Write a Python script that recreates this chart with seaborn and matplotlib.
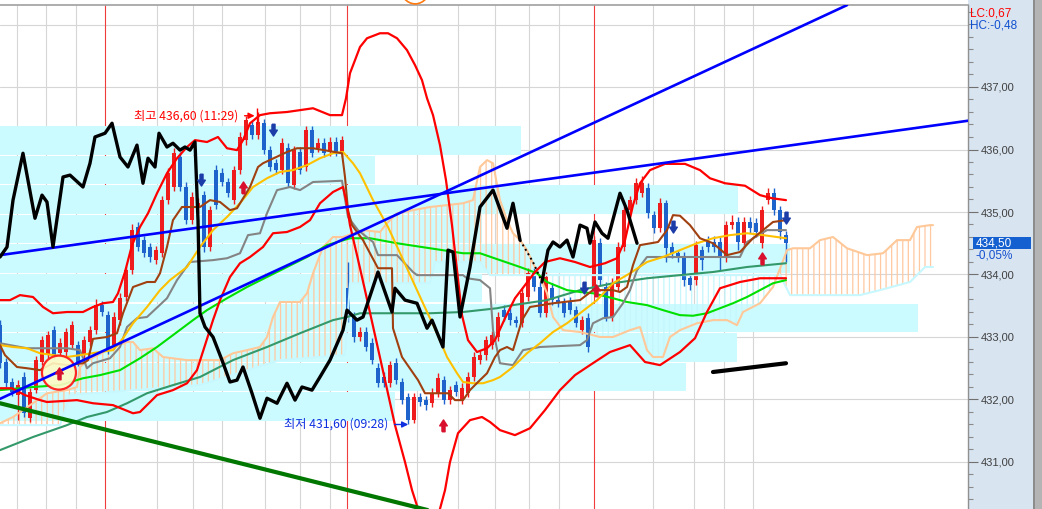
import numpy as np
import pandas as pd
import seaborn as sns
import matplotlib
matplotlib.use("Agg")
import matplotlib.pyplot as plt
from matplotlib.patches import Rectangle, Ellipse
from matplotlib.ticker import FuncFormatter, FixedLocator, MultipleLocator
import matplotlib.transforms as mtransforms

sns.set_theme(style="white")
plt.rcParams['font.family'] = ['DejaVu Sans']
plt.rcParams['hatch.linewidth'] = 0.9

# ---------------- data ----------------
open_ = [
433.19, 432.60, 432.28, 432.07, 432.36, 431.70, 432.15, 432.60, 432.71, 433.11,
432.74, 432.76, 432.87, 432.87, 432.71, 432.92, 433.11, 433.51, 433.35, 432.87,
433.27, 433.64, 434.07, 434.76, 434.55, 434.44, 434.23, 434.34, 435.19, 435.40,
435.88, 435.40, 434.87, 435.06, 435.27, 434.44, 435.67, 435.62, 435.48, 435.19,
435.67, 436.15, 436.39, 436.23, 436.42, 435.99, 435.78, 435.67, 436.02, 435.43,
435.96, 435.72, 436.31, 436.02, 436.10, 435.96, 436.12, 435.94, 433.78, 433.32,
433.00, 433.08, 432.90, 432.50, 432.36, 432.26, 432.58, 432.28, 432.04, 431.67,
432.04, 431.99, 431.94, 432.10, 432.31, 431.99, 432.23, 431.99, 432.10, 432.36,
432.63, 432.71, 432.87, 433.00, 433.43, 433.38, 433.27, 433.22, 433.64, 434.02,
433.80, 433.38, 433.78, 433.59, 433.54, 433.56, 433.43, 433.11, 433.30, 433.75,
434.50, 433.80, 433.32, 433.80, 434.44, 435.03, 435.19, 435.30, 435.38, 434.95,
434.74, 435.14, 434.44, 434.34, 434.28, 433.94, 433.91, 434.39, 434.52, 434.52,
434.52, 434.28, 434.79, 434.84, 434.50, 434.84, 434.82, 434.50, 435.19, 435.30,
435.03, 434.63]
close = [
432.58, 432.26, 432.12, 432.23, 431.78, 432.12, 432.63, 432.95, 433.03, 432.71,
432.90, 433.08, 433.19, 432.60, 432.95, 433.11, 433.51, 433.40, 432.79, 433.32,
433.62, 434.07, 434.71, 434.44, 434.34, 434.28, 434.39, 435.19, 435.62, 435.94,
435.40, 434.87, 435.24, 435.14, 434.44, 435.03, 435.11, 435.48, 435.30, 435.67,
436.20, 436.47, 436.23, 436.44, 435.99, 435.72, 435.67, 436.10, 435.46, 435.99,
435.67, 436.31, 435.94, 436.10, 435.94, 436.12, 435.96, 436.15, 433.32, 433.00,
433.08, 432.84, 432.63, 432.26, 432.26, 432.55, 432.31, 431.99, 431.67, 432.04,
431.96, 431.91, 432.10, 432.34, 431.99, 432.15, 432.12, 432.18, 432.36, 432.68,
432.71, 432.95, 433.03, 433.32, 433.32, 433.27, 433.22, 433.70, 434.02, 433.80,
433.38, 433.96, 433.59, 433.54, 433.38, 433.43, 433.22, 433.27, 432.84, 434.55,
433.91, 433.32, 433.86, 434.44, 435.03, 435.19, 435.46, 435.46, 434.98, 434.74,
435.14, 434.42, 434.34, 434.28, 433.91, 433.83, 434.47, 434.23, 434.44, 434.44,
434.28, 434.79, 434.84, 434.52, 434.84, 434.74, 434.68, 435.03, 435.30, 435.03,
434.68, 434.50]
high = [
433.28, 432.66, 432.34, 432.31, 432.44, 432.18, 432.70, 433.02, 433.10, 433.18,
432.98, 433.15, 433.26, 432.94, 433.02, 433.18, 433.60, 433.58, 433.42, 433.40,
433.70, 434.14, 434.80, 434.84, 434.62, 434.50, 434.45, 435.26, 435.70, 436.02,
435.96, 435.48, 435.32, 435.22, 435.34, 435.10, 435.76, 435.70, 435.55, 435.74,
436.28, 436.54, 436.46, 436.60, 436.48, 436.06, 435.85, 436.18, 436.10, 436.06,
436.04, 436.38, 436.38, 436.18, 436.18, 436.20, 436.20, 436.22, 434.20, 433.40,
433.16, 433.16, 432.98, 432.58, 432.44, 432.62, 432.66, 432.34, 432.10, 432.10,
432.10, 432.06, 432.18, 432.42, 432.38, 432.22, 432.30, 432.26, 432.44, 432.76,
432.78, 433.02, 433.10, 433.40, 433.52, 433.46, 433.34, 433.78, 434.10, 434.10,
433.88, 434.04, 433.86, 433.66, 433.62, 433.64, 433.50, 433.34, 433.38, 434.62,
434.58, 433.88, 433.94, 434.52, 435.10, 435.26, 435.54, 435.58, 435.46, 435.02,
435.22, 435.20, 434.52, 434.40, 434.36, 434.02, 434.54, 434.46, 434.62, 434.62,
434.60, 434.86, 434.96, 434.92, 434.92, 434.92, 434.90, 435.10, 435.38, 435.38,
435.10, 434.70]
low = [
432.50, 432.20, 432.05, 431.67, 431.72, 431.64, 432.10, 432.55, 432.66, 432.65,
432.68, 432.70, 432.82, 432.54, 432.65, 432.86, 433.05, 433.33, 432.72, 432.80,
433.20, 433.58, 434.00, 434.38, 434.28, 434.20, 434.16, 434.28, 435.12, 435.34,
435.34, 434.80, 434.80, 434.98, 434.36, 434.38, 435.04, 435.42, 435.24, 435.12,
435.60, 436.08, 436.16, 436.16, 435.92, 435.66, 435.60, 435.60, 435.40, 435.36,
435.60, 435.66, 435.88, 435.96, 435.88, 435.90, 435.90, 435.88, 433.24, 432.92,
432.94, 432.78, 432.56, 432.20, 432.20, 432.20, 432.24, 431.92, 431.60, 431.62,
431.90, 431.84, 431.88, 432.04, 431.92, 431.92, 432.06, 431.92, 432.04, 432.30,
432.56, 432.64, 432.80, 432.94, 433.26, 433.20, 433.16, 433.16, 433.58, 433.74,
433.32, 433.32, 433.52, 433.48, 433.32, 433.36, 433.16, 433.04, 432.76, 433.70,
433.84, 433.26, 433.26, 433.74, 434.38, 434.96, 435.12, 435.24, 434.90, 434.66,
434.68, 434.20, 434.26, 434.20, 433.82, 433.76, 433.84, 434.08, 434.36, 434.36,
434.08, 434.20, 434.72, 434.40, 434.42, 434.66, 434.60, 434.42, 435.12, 434.96,
434.56, 434.20]

# volume-by-price profile (bin lower edges, width in bar units)
profile_edges = [431.660, 432.133, 432.606, 433.079, 433.552, 434.025,
                 434.498, 434.971, 435.444, 435.917, 436.390]
profile_volume = [65.83, 114.33, 122.83, 153.0, 80.33, 131.67, 80.33, 123.0, 62.5, 86.83]

# overlay (black) line
black_x = [0, 1.17, 2.17, 3.83, 5.83, 7.0, 7.83, 8.83, 10.5, 11.67, 13.83, 15.0, 15.83, 17.5, 18.67,
           20.0, 21.33, 22.83, 23.83, 24.67, 25.83, 26.5, 27.83, 28.83, 30.0, 30.83, 31.67, 32.5,
           33.0, 33.33, 34.17, 35.5, 37.0, 38.33, 39.5, 40.5, 42.0, 43.33, 44.5, 46.17, 47.83,
           49.17, 50.33, 52.0, 53.33, 55.0, 57.17, 57.83, 59.5, 60.5, 63.0, 65.33, 65.83, 67.5,
           69.5, 71.17, 72.0, 73.83, 74.67, 75.5, 76.67, 78.33, 80.0, 82.17, 84.5, 85.5, 86.67]
black_y = [434.28, 434.44, 435.19, 435.94, 434.90, 435.27, 435.16, 434.44, 435.56, 435.59, 435.40,
           435.78, 436.20, 436.26, 436.42, 435.88, 435.72, 436.07, 435.46, 435.86, 435.72, 436.26,
           436.04, 436.10, 435.99, 436.04, 435.99, 436.12, 434.87, 433.38, 433.16, 433.00, 432.63,
           432.28, 432.31, 432.52, 432.10, 431.70, 432.02, 431.94, 432.26, 431.99, 432.20, 432.15,
           432.36, 432.63, 433.11, 433.43, 433.27, 433.32, 434.04, 433.40, 433.78, 433.59, 433.54,
           433.14, 433.27, 432.84, 434.39, 434.36, 433.32, 434.12, 435.08, 435.35, 434.74, 435.14,
           434.55]
black_dot_x = [86.67, 88.83, 90.33]
black_dot_y = [434.55, 434.20, 433.88]
black2_x = [90.33, 91.33, 92.17, 93.33, 94.5, 95.5, 96.67, 97.83, 98.33, 99.17, 100.33, 101.33,
            103.33, 104.5, 106.17]
black2_y = [433.88, 434.39, 434.52, 434.44, 434.55, 434.28, 434.79, 434.74, 434.50, 434.84,
            434.66, 434.58, 435.30, 435.03, 434.50]
black3_x = [118.83, 131.0]
black3_y = [432.44, 432.58]

# bollinger bands
bb_up_x = [0, 1.67, 3.33, 5.5, 7.17, 8.83, 11.17, 13.83, 15.5, 17.17, 18.83, 19.67, 20.83, 22.0,
           23.33, 24.67, 26.17, 27.83, 29.5, 31.17, 32.5, 34.5, 36.33, 37.83, 39.5, 40.5, 41.67,
           43.33, 45.0, 47.83, 50.0, 52.17, 55.0, 57.0, 57.67, 58.33, 59.17, 60.0, 61.17, 63.33,
           64.67, 66.17, 67.83, 69.17, 70.33, 71.17, 72.17, 73.33, 74.33, 75.33, 76.17, 77.0,
           78.0, 79.5, 81.17, 82.5, 84.17, 85.83, 87.5, 89.17, 90.83, 93.33, 95.83, 98.33,
           100.83, 102.83, 104.17, 105.5, 106.67, 108.33, 110.83, 114.17, 116.67, 118.33,
           120.83, 124.17, 126.67, 128.67, 131.0]
bb_up_y = [433.59, 433.59, 433.67, 433.64, 433.48, 433.38, 433.40, 433.40, 433.48, 433.54, 433.56,
           433.70, 434.04, 434.47, 434.76, 434.98, 435.30, 435.62, 435.86, 436.04, 436.15, 436.12,
           436.20, 436.02, 435.99, 436.15, 436.42, 436.55, 436.58, 436.60, 436.63, 436.66, 436.55,
           436.55, 436.82, 437.22, 437.43, 437.64, 437.78, 437.86, 437.86, 437.78, 437.59, 437.35,
           437.11, 436.82, 436.55, 436.07, 435.51, 434.79, 434.07, 433.35, 432.95, 432.76, 432.82,
           432.95, 433.30, 433.62, 433.83, 434.04, 434.20, 434.26, 434.20, 434.12, 434.18, 434.26,
           434.55, 435.11, 435.46, 435.67, 435.77, 435.77, 435.67, 435.54, 435.46, 435.42, 435.27,
           435.22, 435.19]
bb_dn_x = [0, 2.0, 4.17, 6.67, 7.83, 12.83, 15.5, 18.83, 22.17, 23.33, 26.17, 28.83, 31.17, 32.83,
           34.17, 35.5, 36.67, 38.33, 40.0, 41.67, 43.83, 45.5, 47.83, 50.0, 51.67, 53.33, 55.5,
           57.17, 57.67, 58.33, 59.5, 60.83, 62.5, 64.17, 65.83, 67.5, 68.67, 69.67, 70.83, 72.5,
           73.33, 74.17, 75.0, 76.33, 78.33, 80.33, 81.67, 83.33, 85.83, 88.33, 90.83, 93.33,
           95.83, 98.33, 101.67, 105.0, 107.5, 110.0, 113.33, 115.83, 117.83, 120.0, 123.33,
           126.67, 131.0]
bb_dn_y = [432.18, 432.18, 432.07, 431.99, 431.96, 431.99, 431.94, 431.91, 431.78, 431.80, 432.07,
           432.15, 432.26, 432.47, 432.87, 433.27, 433.59, 433.96, 434.18, 434.28, 434.44, 434.66,
           434.68, 434.76, 434.87, 435.14, 435.32, 435.40, 435.19, 434.79, 434.31, 433.75, 433.03,
           432.31, 431.59, 431.00, 430.55, 430.25, 429.99, 429.99, 430.25, 430.55, 431.00, 431.46,
           431.67, 431.72, 431.64, 431.51, 431.43, 431.54, 431.83, 432.15, 432.39, 432.55, 432.76,
           432.87, 432.60, 432.55, 432.76, 432.98, 433.40, 433.78, 433.88, 433.94, 433.94]

# conversion (brown), base (gray), moving averages
brown_x = [0, 0.83, 2.83, 4.5, 6.67, 8.83, 11.17, 13.83, 14.67, 15.5, 17.83, 19.5, 20.5, 22.17, 24.5,
           25.83, 26.67, 27.83, 28.83, 30.33, 33.33, 35.0, 36.67, 38.33, 39.5, 41.67, 43.0, 43.83,
           47.83, 49.5, 52.17, 57.0, 57.5, 58.0, 58.67, 60.5, 63.0, 65.33, 65.5, 67.0, 69.67, 70.83,
           74.67, 75.83, 77.17, 78.33, 79.67, 81.17, 82.5, 83.33, 84.5, 85.5, 87.0, 88.33, 92.17,
           96.67, 98.83, 102.17, 103.33, 104.5, 105.5, 106.67, 109.67, 111.17, 112.17, 113.33,
           115.0, 116.67, 118.83, 121.17, 123.33, 125.5, 127.17, 128.83, 131.0]
brown_y = [432.87, 432.71, 432.52, 432.50, 432.47, 432.58, 432.55, 432.58, 432.63, 432.97, 433.00,
           433.06, 433.38, 433.80, 433.88, 433.88, 434.02, 434.44, 434.87, 435.08, 435.08, 435.19,
           435.16, 435.03, 435.06, 435.40, 435.72, 435.78, 435.96, 436.02, 436.02, 435.94, 435.56,
           435.03, 434.79, 434.55, 434.10, 434.10, 433.14, 432.68, 432.31, 432.10, 432.10, 431.99,
           431.99, 432.15, 432.28, 432.42, 432.68, 432.79, 432.84, 432.79, 433.27, 433.48, 433.54,
           433.59, 433.75, 433.75, 433.72, 433.80, 434.15, 434.47, 434.52, 434.71, 434.95, 434.94,
           434.79, 434.58, 434.50, 434.31, 434.36, 434.58, 434.71, 434.84, 434.87]
gray_x = [0, 4.5, 11.17, 13.33, 14.5, 15.5, 18.33, 20.0, 21.17, 22.83, 24.5, 27.83, 29.5, 31.67,
          35.5, 37.83, 40.0, 41.33, 43.33, 44.5, 46.17, 48.33, 50.0, 52.17, 57.0, 58.0, 59.67,
          62.17, 63.0, 66.17, 68.83, 69.5, 77.17, 77.83, 80.0, 81.67, 82.17, 83.33, 85.5, 87.17,
          90.0, 96.67, 97.83, 98.83, 100.5, 102.17, 103.83, 105.0, 106.17, 107.83, 123.33, 124.5,
          127.83, 131.0]
gray_y = [432.90, 432.82, 432.82, 432.79, 432.50, 432.58, 432.66, 432.84, 433.16, 433.30, 433.32,
          433.62, 433.91, 434.20, 434.23, 434.26, 434.34, 434.63, 434.66, 434.98, 435.35, 435.40,
          435.35, 435.48, 435.50, 434.92, 434.71, 434.52, 434.31, 434.31, 434.04, 433.99, 433.99,
          433.94, 433.91, 433.78, 433.11, 432.58, 432.55, 432.79, 432.84, 432.87, 432.95, 433.22,
          433.30, 433.32, 433.54, 433.75, 434.07, 434.28, 434.28, 434.52, 434.71, 434.71]
gold_x = [0, 2.17, 4.5, 6.67, 11.17, 13.33, 16.67, 18.83, 20.5, 22.17, 24.5, 26.67, 28.33, 31.17,
          33.33, 35.5, 37.83, 40.0, 42.17, 44.5, 46.67, 48.83, 51.17, 53.33, 55.5, 57.17, 58.83,
          60.0, 62.17, 64.67, 67.83, 70.5, 72.83, 74.5, 76.17, 77.17, 78.83, 80.5, 82.17, 83.33,
          85.5, 87.83, 90.0, 92.17, 94.5, 96.67, 99.5, 102.17, 105.0, 107.83, 110.5, 113.33,
          116.17, 118.83, 121.67, 124.5, 127.17, 131.0]
gold_y = [432.87, 432.84, 432.82, 432.74, 432.68, 432.71, 432.76, 432.79, 432.98, 433.22, 433.48,
          433.75, 433.91, 434.12, 434.44, 434.71, 434.92, 435.14, 435.40, 435.54, 435.64, 435.67,
          435.75, 435.86, 435.94, 435.96, 435.78, 435.62, 435.19, 434.76, 434.10, 433.54, 433.06,
          432.68, 432.42, 432.28, 432.26, 432.26, 432.31, 432.36, 432.52, 432.74, 432.90, 433.08,
          433.22, 433.38, 433.59, 433.86, 434.02, 434.20, 434.28, 434.39, 434.50, 434.58, 434.63,
          434.66, 434.63, 434.58]
green_x = [0, 5.5, 10.0, 13.83, 16.67, 20.0, 23.33, 26.17, 28.83, 32.17, 34.5, 37.83, 41.17, 44.5,
           47.83, 51.17, 54.5, 58.33, 61.67, 66.17, 71.67, 77.17, 80.0, 83.33, 86.67, 89.5, 91.17,
           94.5, 96.67, 98.83, 102.17, 104.5, 107.83, 110.5, 113.33, 115.5, 117.83, 120.0, 122.17,
           124.5, 126.67, 128.83, 131.0]
green_y = [432.15, 432.20, 432.23, 432.34, 432.39, 432.47, 432.66, 432.84, 433.03, 433.27, 433.43,
           433.62, 433.80, 433.96, 434.12, 434.28, 434.47, 434.58, 434.58, 434.50, 434.42, 434.34,
           434.34, 434.23, 434.12, 434.02, 433.88, 433.75, 433.72, 433.70, 433.62, 433.56, 433.51,
           433.43, 433.35, 433.34, 433.38, 433.46, 433.54, 433.64, 433.75, 433.86, 433.91]
sea_x = [0, 5.5, 11.17, 14.5, 17.83, 21.17, 24.5, 28.83, 33.33, 38.83, 44.5, 50.0, 55.5, 57.83,
         60.0, 63.33, 71.67, 77.17, 82.83, 85.5, 91.17, 96.67, 102.17, 107.83, 113.33, 118.83,
         124.5, 131.0]
sea_y = [431.19, 431.40, 431.59, 431.72, 431.80, 431.94, 432.10, 432.23, 432.36, 432.63, 432.84,
         433.06, 433.27, 433.32, 433.38, 433.38, 433.38, 433.40, 433.46, 433.51, 433.59, 433.75,
         433.86, 433.94, 433.99, 434.04, 434.12, 434.18]

# ichimoku leading spans
spanA_x = [0, 2.17, 3.83, 6.67, 7.83, 11.17, 12.83, 13.33, 14.67, 17.83, 21.17, 22.17, 23.33, 25.5,
           27.17, 31.17, 36.67, 38.83, 41.17, 43.33, 44.5, 45.5, 46.67, 50.0, 51.17, 52.17, 53.83,
           55.5, 57.17, 60.5, 63.33, 64.5, 66.17, 68.83, 71.67, 74.5, 77.17, 78.83, 80.0, 81.17,
           82.17, 83.33, 84.5, 85.5, 86.67, 87.83, 88.83, 90.0, 91.17, 92.17, 93.83, 96.67, 100.0,
           102.17, 105.0, 106.67, 107.83, 108.83, 110.5, 111.67, 113.33, 116.17, 118.83, 121.17,
           122.83, 123.83, 126.67, 128.83, 131.17, 132.17, 135.0, 136.67, 138.83, 141.17, 144.5,
           147.17, 149.5, 151.67, 152.83, 155.0, 155.5]
spanA_y = [431.62, 431.72, 431.83, 432.02, 432.10, 432.15, 432.20, 432.52, 432.63, 432.79, 432.92,
           432.92, 432.79, 432.82, 432.68, 432.63, 432.63, 432.74, 432.79, 432.84, 433.00, 433.32,
           433.56, 433.56, 433.70, 434.02, 434.44, 434.60, 434.60, 434.71, 434.68, 434.82, 434.98,
           435.03, 435.08, 435.11, 435.14, 435.19, 435.72, 435.83, 435.78, 435.19, 434.87, 434.66,
           434.55, 434.39, 434.18, 433.96, 433.70, 433.32, 433.11, 433.08, 433.00, 433.00, 433.11,
           433.16, 432.79, 432.68, 432.68, 433.00, 433.11, 433.22, 433.27, 433.27, 433.19, 433.40,
           433.54, 433.80, 434.39, 434.42, 434.42, 434.55, 434.60, 434.42, 434.31, 434.34, 434.55,
           434.55, 434.76, 434.79, 434.79]
spanB_x = [0, 10.0, 11.67, 33.33, 46.67, 57.5, 58.33, 71.67, 72.5, 80.0, 81.67, 130.0, 131.67,
           143.33, 146.67, 151.67, 154.17, 155.5]
spanB_y = [431.59, 431.59, 432.07, 432.23, 432.63, 432.71, 433.86, 433.86, 434.20, 434.20, 433.99,
           433.99, 433.67, 433.67, 433.75, 433.88, 434.12, 434.12]

# user trend lines
trend_blue1_x, trend_blue1_y = [0, 161.33], [434.31, 436.46]
trend_blue2_x, trend_blue2_y = [0, 141.17], [432.01, 438.31]
trend_green_x, trend_green_y = [0, 71.33], [431.94, 430.23]

# signals
sig_down_x = [33.5, 45.5, 97.33, 112.17, 131.0]
sig_down_y = [435.51, 436.31, 433.78, 434.76, 434.90]
sig_up_x = [40.5, 73.83, 99.33, 127.0]
sig_up_y = [435.40, 431.59, 433.75, 434.26]
circle_x, circle_y = 9.83, 432.43

# time grid (bar units); red = session separators
time_grid = [2.78, 7.62, 12.67, 26.17, 32.17, 37.0, 44.17, 50.0, 55.0, 69.5, 76.33, 82.5,
             88.17, 93.17, 108.83, 115.67, 120.67, 125.5]
session_grid = [17.45, 57.78, 99.0]
price_ticks = [431, 432, 433, 434, 435, 436, 437]
price_grid = [431, 432, 433, 434, 435, 436, 437, 438]
lc_text, hc_text = "LC:0,67", "HC:-0,48"
last_change = "-0,05%"
hi_time, lo_time = "11:29", "09:28"

# ---------------- figure ----------------
W, H = 1042, 509
fig = plt.figure(figsize=(W / 100, H / 100), dpi=100, facecolor='white')
ax = fig.add_axes([0, 0, 968 / W, 504 / H])
ax.set_facecolor('white')
ax.set_xlim(0, 968 / 6)
ax.set_ylim(430.248, 438.312)

# right panel background
fig.add_artist(Rectangle((968 / W, 0), 66 / W, 1, transform=fig.transFigure,
                         facecolor='#d8e4f0', edgecolor='none', zorder=-5))
fig.add_artist(Rectangle((1034 / W, 0), 8 / W, 1, transform=fig.transFigure,
                         facecolor='#b4b4b4', edgecolor='none', zorder=-5))
fig.add_artist(Rectangle((1033 / W, 0), 1.5 / W, 1, transform=fig.transFigure,
                         facecolor='#8c8c8c', edgecolor='none', zorder=-4))

# grid
for p in price_grid:
    ax.axhline(p, color='#d6d6d6', lw=0.8, zorder=0.5)
for t in time_grid:
    ax.axvline(t, color='#d6d6d6', lw=0.8, zorder=0.5)
for t in session_grid:
    ax.axvline(t, color='#f03c3c', lw=0.8, zorder=0.6)

# volume profile bands
edges = np.array(profile_edges)
ax.barh(edges[:-1], profile_volume, height=np.diff(edges) - 0.018, left=0, align='edge',
        color='#ccfbff', edgecolor='none', zorder=1)

# ichimoku cloud hatch
ax_ = np.array(spanA_x); ay_ = np.array(spanA_y)
bx_ = np.array(spanB_x); by_ = np.array(spanB_y)
gx = np.union1d(ax_, bx_)
A = np.interp(gx, ax_, ay_); B = np.interp(gx, bx_, by_)
ax.fill_between(gx, A, B, where=A >= B, interpolate=True, facecolor='none',
                edgecolor='#ffc8a0', hatch='|||', linewidth=0, zorder=2)
ax.fill_between(gx, A, B, where=A < B, interpolate=True, facecolor='none',
                edgecolor='#c4f6fc', hatch='|||', linewidth=0, zorder=2)

# candles
o = np.array(open_); c = np.array(close); hi = np.array(high); lo = np.array(low)
idx = np.arange(len(o))
cols = np.where(c >= o, '#ee1c1c', '#1e62cc')
ax.vlines(idx, lo, hi, colors=cols, lw=1.0, zorder=3)
body = np.maximum(np.abs(c - o), 0.03)
ax.bar(idx, body, bottom=np.minimum(o, c), width=0.58, color=cols, edgecolor='none', zorder=3.1)

def line(xs, ys, color, lw, z, ls='-'):
    sns.lineplot(x=xs, y=ys, ax=ax, color=color, linewidth=lw, estimator=None, sort=False,
                 legend=False, zorder=z, linestyle=ls)

line(spanA_x, spanA_y, '#ffc898', 1.5, 3.5)
line(spanB_x, spanB_y, '#c8f8ff', 1.5, 3.4)
line(sea_x, sea_y, '#33996a', 1.5, 4)
line(green_x, green_y, '#00e000', 1.5, 4)
line(gray_x, gray_y, '#848484', 1.5, 4.1)
line(gold_x, gold_y, '#ffc000', 1.5, 4.2)
line(brown_x, brown_y, '#a04010', 1.5, 4.3)
line(bb_up_x, bb_up_y, '#ff0000', 1.6, 4.4)
line(bb_dn_x, bb_dn_y, '#ff0000', 1.6, 4.4)
line(trend_blue1_x, trend_blue1_y, '#0000ff', 1.9, 5)
line(trend_blue2_x, trend_blue2_y, '#0000ff', 1.9, 5)
line(trend_green_x, trend_green_y, '#007800', 3.0, 5)
line(black_x, black_y, '#000000', 2.4, 6)
line(black_dot_x, black_dot_y, '#000000', 1.4, 6, ':')
line(black2_x, black2_y, '#000000', 2.4, 6)
line(black3_x, black3_y, '#000000', 3.0, 6)

# circle mark
ax.add_patch(Ellipse((circle_x, circle_y), 34 / 6, 34 / 62.5, facecolor='#fffac4',
                     edgecolor='#ff1010', lw=1.6, alpha=0.9, zorder=4.35))
# orange arc at the top edge
ax.add_patch(Ellipse((69.2, 438.63), 5.2, 0.6, facecolor='none', edgecolor='#ff7a10',
                     lw=1.2, clip_on=False, zorder=7))

down_arrow = [(-0.22, 0.9), (0.22, 0.9), (0.22, 0.05), (0.55, 0.05), (0, -0.8), (-0.55, 0.05),
              (-0.22, 0.05), (-0.22, 0.9)]
up_arrow = [(x, -y) for x, y in down_arrow]
ax.plot(sig_down_x, sig_down_y, linestyle='none', marker=down_arrow, ms=9, color='#1c3ca8',
        zorder=7)
ax.plot(sig_up_x + [circle_x], sig_up_y + [circle_y], linestyle='none', marker=up_arrow, ms=9,
        color='#d8102e', zorder=7)

# high / low annotations
kfont = ['Noto Sans CJK KR', 'DejaVu Sans']
hi_i = int(np.argmax(hi)); lo_i = int(np.argmin(lo))
hi_v = hi[hi_i]; lo_v = lo[lo_i]
fmt = lambda v: f"{v:.2f}".replace('.', ',')
ax.text(hi_i - 3.3, hi_v - 0.06, f"최고 {fmt(hi_v)} ({hi_time})", color='#ff0000', fontsize=8.8,
        family=kfont, ha='right', va='center', zorder=8)
ax.annotate('', xy=(hi_i - 0.1, hi_v - 0.06), xytext=(hi_i - 2.7, hi_v - 0.06),
            arrowprops=dict(arrowstyle='-|>', color='#ff0000', lw=1.0, mutation_scale=9),
            zorder=8)
ax.vlines(hi_i - 0.1, hi_v - 0.2, hi_v + 0.06, colors='#ff0000', lw=1.0, zorder=8)
ax.text(lo_i - 3.3, lo_v, f"최저 {fmt(lo_v)} ({lo_time})", color='#1030e0', fontsize=8.8,
        family=kfont, ha='right', va='center', zorder=8)
ax.annotate('', xy=(lo_i + 0.5, lo_v), xytext=(lo_i - 2.7, lo_v),
            arrowprops=dict(arrowstyle='-|>', color='#1030e0', lw=1.0, mutation_scale=9),
            zorder=8)

# axes styling
for s in ['left', 'bottom']:
    ax.spines[s].set_visible(False)
ax.spines['top'].set_color('#a0a0a0'); ax.spines['top'].set_linewidth(1.2)
ax.spines['right'].set_color('#909090'); ax.spines['right'].set_linewidth(1.0)
ax.set_xticks([])
ax.yaxis.tick_right()
ax.yaxis.set_major_locator(FixedLocator(price_ticks))
ax.yaxis.set_minor_locator(MultipleLocator(0.2))
ax.yaxis.set_major_formatter(FuncFormatter(lambda v, _: fmt(v)))
ax.tick_params(axis='y', which='major', length=7, width=0.8, color='#707070', labelsize=8,
               labelcolor='#404040', pad=2, direction='out', right=True, left=False)
ax.tick_params(axis='y', which='minor', length=3.5, width=0.8, color='#8a8a8a', right=True,
               left=False, direction='out')
for lab in ax.get_yticklabels():
    lab.set_family(['Liberation Sans', 'DejaVu Sans'])
ax.set_xlabel(''); ax.set_ylabel('')

# right-panel texts
fig.text(970 / W, 1 - 13 / H, lc_text, color='#ff0000', fontsize=8.5, va='center', ha='left',
         family=['Liberation Sans', 'DejaVu Sans'])
fig.text(970 / W, 1 - 25 / H, hc_text, color='#1050d0', fontsize=8.5, va='center', ha='left',
         family=['Liberation Sans', 'DejaVu Sans'])
bt = mtransforms.blended_transform_factory(fig.transFigure, ax.transData)
last = c[-1]
fig.add_artist(Rectangle((973 / W, last - 0.096), 58 / W, 0.192, transform=bt,
                         facecolor='#1560d0', edgecolor='none', zorder=5))
fig.text(976 / W, last, fmt(last), transform=bt, color='white', fontsize=8.5, va='center',
         ha='left', zorder=6, family=['Liberation Sans', 'DejaVu Sans'])
fig.text(976 / W, last - 0.19, last_change, transform=bt, color='#1550d0', fontsize=8.5,
         va='center', ha='left', zorder=6, family=['Liberation Sans', 'DejaVu Sans'])

fig.savefig('out.png', dpi=100, facecolor='white')
